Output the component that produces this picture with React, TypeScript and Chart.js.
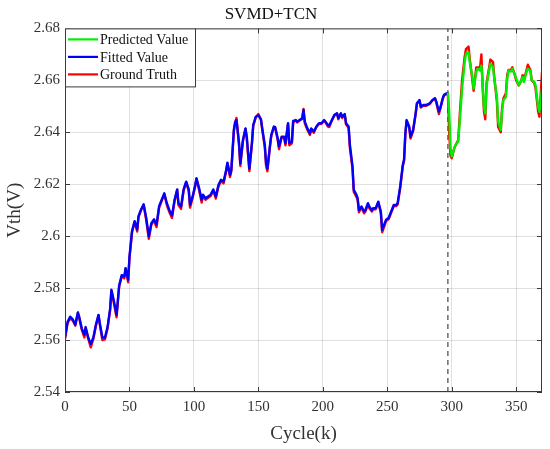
import React, { useEffect, useRef } from 'react';
import { Chart, registerables } from 'chart.js';

Chart.register(...registerables);

const FONT = "'Liberation Serif', 'Times New Roman', serif";

// fitted part (cycles 0..297)
const fitCycles = [
  0, 2, 4, 6, 8, 10, 11, 13, 15, 16,
  18, 20, 22, 24, 26, 27, 29, 31, 33, 35,
  36, 38, 40, 42, 44, 46, 47, 49, 50, 52,
  54, 56, 57, 59, 61, 63, 65, 67, 69, 71,
  73, 75, 77, 79, 81, 83, 85, 87, 88, 90,
  92, 94, 96, 97, 99, 101, 102, 104, 106, 107,
  109, 111, 113, 115, 117, 119, 121, 123, 125, 126,
  128, 129, 131, 132, 133, 135, 136, 138, 140, 141,
  143, 145, 146, 148, 150, 152, 153, 155, 156, 157,
  159, 160, 162, 163, 165, 166, 168, 170, 171, 173,
  174, 176, 177, 179, 180, 182, 184, 185, 186, 188,
  190, 191, 193, 195, 197, 199, 201, 202, 204, 205,
  207, 209, 211, 212, 214, 215, 217, 218, 220, 221,
  223, 224, 226, 227, 228, 230, 232, 233, 235, 236,
  238, 239, 241, 243, 245, 246, 248, 249, 251, 253,
  255, 257, 258, 260, 262, 263, 264, 265, 267, 268,
  270, 272, 273, 275, 276, 278, 280, 282, 283, 285,
  287, 288, 290, 291, 293, 294, 296, 297,
];

const fittedValues = [
  2.561, 2.567, 2.569, 2.568, 2.566, 2.5706, 2.569, 2.5645, 2.562, 2.565,
  2.561, 2.5585, 2.561, 2.566, 2.5697, 2.5665, 2.561, 2.561, 2.565, 2.572,
  2.5794, 2.5748, 2.5697, 2.581, 2.585, 2.5845, 2.5877, 2.5832, 2.592, 2.602,
  2.6058, 2.6026, 2.6077, 2.6103, 2.6123, 2.607, 2.6, 2.605, 2.6065, 2.6045,
  2.6115, 2.614, 2.6165, 2.6127, 2.61, 2.608, 2.614, 2.618, 2.6127, 2.6114,
  2.618, 2.621, 2.618, 2.612, 2.6153, 2.6197, 2.6223, 2.6185, 2.614, 2.616,
  2.6146, 2.6153, 2.616, 2.618, 2.6153, 2.6197, 2.6217, 2.621, 2.6255, 2.6283,
  2.6236, 2.6255, 2.641, 2.644, 2.6447, 2.6358, 2.628, 2.637, 2.6415, 2.6383,
  2.626, 2.636, 2.6428, 2.646, 2.6465, 2.645, 2.6415, 2.635, 2.628, 2.626,
  2.635, 2.639, 2.6422, 2.642, 2.6377, 2.6345, 2.6383, 2.6383, 2.6358, 2.6435,
  2.6358, 2.6364, 2.6444, 2.6447, 2.6441, 2.6447, 2.6454, 2.6486, 2.6441, 2.6415,
  2.6396, 2.6415, 2.6403, 2.6422, 2.6435, 2.6435, 2.6447, 2.6441, 2.6428, 2.6426,
  2.6447, 2.6467, 2.6473, 2.6454, 2.6473, 2.646, 2.647, 2.6435, 2.6422, 2.635,
  2.627, 2.6178, 2.616, 2.6146, 2.61, 2.6114, 2.6095, 2.61, 2.6127, 2.6114,
  2.61, 2.6108, 2.6108, 2.6133, 2.6095, 2.6024, 2.605, 2.6063, 2.607, 2.6095,
  2.612, 2.612, 2.6127, 2.6191, 2.6274, 2.6294, 2.6396, 2.6447, 2.6422, 2.6383,
  2.6409, 2.6473, 2.6512, 2.6524, 2.6499, 2.6505, 2.6505, 2.6509, 2.6512, 2.6524,
  2.6531, 2.6518, 2.648, 2.6492, 2.6531, 2.6544, 2.655, 2.6549,
];

const fitTruth = [
  2.5605, 2.5665, 2.5685, 2.5675, 2.5655, 2.5705, 2.5685, 2.564, 2.561, 2.5645,
  2.5605, 2.5572, 2.5605, 2.5655, 2.5695, 2.566, 2.56, 2.5603, 2.5645, 2.5715,
  2.579, 2.574, 2.5688, 2.5805, 2.5845, 2.5838, 2.5875, 2.5822, 2.5915, 2.6015,
  2.6055, 2.6018, 2.6072, 2.61, 2.612, 2.6062, 2.599, 2.6045, 2.606, 2.6035,
  2.611, 2.6135, 2.6162, 2.612, 2.6092, 2.607, 2.6135, 2.6178, 2.612, 2.6105,
  2.6175, 2.6208, 2.6172, 2.611, 2.6148, 2.6192, 2.622, 2.6178, 2.613, 2.6155,
  2.614, 2.6148, 2.6155, 2.6175, 2.6145, 2.619, 2.6212, 2.6203, 2.625, 2.628,
  2.6228, 2.625, 2.6405, 2.6438, 2.6455, 2.635, 2.627, 2.6365, 2.6413, 2.6375,
  2.625, 2.6355, 2.6425, 2.6458, 2.647, 2.6448, 2.641, 2.6342, 2.627, 2.625,
  2.6345, 2.6385, 2.642, 2.6418, 2.637, 2.6335, 2.638, 2.6378, 2.635, 2.6432,
  2.635, 2.6358, 2.644, 2.6445, 2.6438, 2.6445, 2.6452, 2.649, 2.6435, 2.641,
  2.639, 2.6412, 2.6398, 2.642, 2.6432, 2.6433, 2.6445, 2.6438, 2.6422, 2.642,
  2.6445, 2.6465, 2.6472, 2.645, 2.6472, 2.6455, 2.6468, 2.643, 2.6418, 2.634,
  2.626, 2.617, 2.6152, 2.614, 2.6092, 2.611, 2.6088, 2.6095, 2.6123, 2.6108,
  2.6095, 2.6103, 2.6103, 2.613, 2.6088, 2.6015, 2.6042, 2.6058, 2.6065, 2.609,
  2.6115, 2.6116, 2.6122, 2.6185, 2.6268, 2.629, 2.639, 2.6445, 2.6418, 2.6376,
  2.6405, 2.647, 2.651, 2.6522, 2.6495, 2.6502, 2.6502, 2.6506, 2.651, 2.6522,
  2.653, 2.6515, 2.647, 2.6488, 2.6528, 2.6542, 2.6548, 2.655,
];

// predicted part (cycles 297..370)
const predCycles = [
  297, 298, 299, 300, 302, 303, 305, 306, 308, 310,
  311, 313, 314, 316, 317, 319, 320, 322, 323, 324,
  325, 326, 327, 329, 330, 332, 333, 335, 336, 338,
  339, 340, 342, 343, 344, 346, 347, 349, 350, 352,
  354, 355, 356, 358, 359, 361, 362, 364, 365, 367,
  368, 370,
];

const predictedValues = [
  2.6549, 2.648, 2.6339, 2.6307, 2.6339, 2.6352, 2.6364, 2.6428, 2.6568, 2.667,
  2.6702, 2.6708, 2.667, 2.6613, 2.6568, 2.6632, 2.6645, 2.6638, 2.6657, 2.6581,
  2.6498, 2.6473, 2.6581, 2.6638, 2.6664, 2.6651, 2.6606, 2.6536, 2.6441, 2.6409,
  2.6479, 2.6524, 2.6536, 2.6606, 2.6638, 2.6634, 2.6645, 2.6619, 2.6606, 2.6581,
  2.66, 2.6613, 2.6594, 2.6632, 2.6645, 2.6638, 2.66, 2.6594, 2.6581, 2.6498,
  2.6479, 2.6568,
];

const predTruth = [
  2.655, 2.64, 2.631, 2.63, 2.634, 2.635, 2.637, 2.645, 2.66, 2.669,
  2.672, 2.673, 2.668, 2.66, 2.656, 2.665, 2.665, 2.665, 2.67, 2.657,
  2.648, 2.645, 2.659, 2.665, 2.668, 2.667, 2.661, 2.652, 2.642, 2.64,
  2.649, 2.653, 2.655, 2.662, 2.664, 2.664, 2.665, 2.662, 2.66, 2.658,
  2.66, 2.662, 2.66, 2.664, 2.666, 2.664, 2.66, 2.659, 2.657, 2.648,
  2.646, 2.663,
];

const splitCycle = 297;
const xMin = 0;
const xMax = 370;
const yMin = 2.54;
const yMax = 2.68;

const zip = (xs: number[], ys: number[]) =>
  xs.slice(0, Math.min(xs.length, ys.length)).map((x, i) => ({ x, y: ys[i] }));

const framePlugin = {
  id: 'frame',
  afterDatasetsDraw(chart: any) {
    const { ctx, chartArea: a, scales } = chart;
    ctx.save();
    ctx.strokeStyle = '#3a3a3a';
    ctx.lineWidth = 1;
    ctx.strokeRect(a.left + 0.5, a.top + 0.5, a.right - a.left - 1, a.bottom - a.top - 1);
    const len = 5;
    ctx.beginPath();
    scales.x.ticks.forEach((t: any) => {
      const px = Math.round(scales.x.getPixelForValue(t.value)) + 0.5;
      ctx.moveTo(px, a.bottom);
      ctx.lineTo(px, a.bottom - len);
      ctx.moveTo(px, a.top);
      ctx.lineTo(px, a.top + len);
    });
    scales.y.ticks.forEach((t: any) => {
      const py = Math.round(scales.y.getPixelForValue(t.value)) + 0.5;
      ctx.moveTo(a.left, py);
      ctx.lineTo(a.left + len, py);
      ctx.moveTo(a.right, py);
      ctx.lineTo(a.right - len, py);
    });
    ctx.stroke();
    ctx.restore();
  },
};

const legendPlugin = {
  id: 'boxLegend',
  afterDraw(chart: any) {
    const { ctx, chartArea: a } = chart;
    const items = chart.data.datasets.filter((d: any) => d.label);
    const w = 130;
    const h = 58;
    ctx.save();
    ctx.fillStyle = '#fff';
    ctx.fillRect(a.left, a.top, w, h);
    ctx.strokeStyle = '#3a3a3a';
    ctx.lineWidth = 1;
    ctx.strokeRect(a.left + 0.5, a.top + 0.5, w, h);
    ctx.font = `14px ${FONT}`;
    ctx.textBaseline = 'middle';
    ctx.textAlign = 'left';
    items.forEach((d: any, i: number) => {
      const y = a.top + 11 + i * 17.5;
      ctx.strokeStyle = d.borderColor;
      ctx.lineWidth = 2.2;
      ctx.beginPath();
      ctx.moveTo(a.left + 3, y);
      ctx.lineTo(a.left + 33, y);
      ctx.stroke();
      ctx.fillStyle = '#111';
      ctx.fillText(d.label, a.left + 35, y + 1);
    });
    ctx.restore();
  },
};

const lineStyle = {
  borderWidth: 2.4,
  pointRadius: 0,
  tension: 0,
  borderJoinStyle: 'round',
  borderCapStyle: 'round',
};

const SvmdChart = () => {
  const canvasRef = useRef<HTMLCanvasElement | null>(null);

  useEffect(() => {
    document.body.style.margin = '0';
    if (!canvasRef.current) return;

    const truthPoints = zip(fitCycles, fitTruth).concat(zip(predCycles, predTruth).slice(1));

    const chart = new Chart(canvasRef.current, {
      type: 'line',
      data: {
        datasets: [
          {
            label: 'Predicted Value',
            data: zip(predCycles, predictedValues),
            borderColor: '#00ee00',
            ...lineStyle,
          },
          {
            label: 'Fitted Value',
            data: zip(fitCycles, fittedValues),
            borderColor: '#0000ff',
            ...lineStyle,
          },
          {
            label: 'Ground Truth',
            data: truthPoints,
            borderColor: '#ff0000',
            ...lineStyle,
          },
          {
            label: '',
            data: [
              { x: splitCycle, y: yMin },
              { x: splitCycle, y: yMax },
            ],
            borderColor: '#444',
            borderWidth: 1.2,
            borderDash: [5, 4],
            pointRadius: 0,
          },
        ] as any,
      },
      options: {
        animation: false,
        responsive: false,
        devicePixelRatio: 1,
        layout: { padding: { left: 0, right: 8, top: 0, bottom: 0 } },
        plugins: {
          legend: { display: false },
          tooltip: { enabled: false },
          title: {
            display: true,
            text: 'SVMD+TCN',
            color: '#111',
            font: { family: FONT, size: 17, weight: 'normal' },
            padding: { top: 4, bottom: 4 },
          },
        },
        scales: {
          x: {
            type: 'linear',
            min: xMin,
            max: xMax,
            afterFit: (s: any) => {
              s.height = 57;
            },
            ticks: {
              stepSize: 50,
              includeBounds: false,
              color: '#333',
              padding: 6,
              font: { family: FONT, size: 15 },
              maxRotation: 0,
            },
            grid: { color: 'rgba(0,0,0,0.12)', drawTicks: false },
            border: { display: false },
            title: {
              display: true,
              text: 'Cycle(k)',
              color: '#333',
              font: { family: FONT, size: 19 },
              padding: { top: 4, bottom: 4 },
            },
          },
          y: {
            type: 'linear',
            min: yMin,
            max: yMax,
            afterFit: (s: any) => {
              s.width = 65;
            },
            ticks: {
              stepSize: 0.02,
              color: '#333',
              padding: 5,
              font: { family: FONT, size: 15 },
              callback: (v: any) => String(Number(Number(v).toFixed(2))),
            },
            grid: { color: 'rgba(0,0,0,0.12)', drawTicks: false },
            border: { display: false },
            title: {
              display: true,
              text: 'Vth(V)',
              color: '#333',
              font: { family: FONT, size: 19 },
              padding: { top: 4, bottom: 4 },
            },
          },
        },
      },
      plugins: [framePlugin, legendPlugin],
    });

    return () => {
      chart.destroy();
    };
  }, []);

  return <canvas ref={canvasRef} width={550} height={449} style={{ display: 'block' }} />;
};

export default function App() {
  return <SvmdChart />;
}
